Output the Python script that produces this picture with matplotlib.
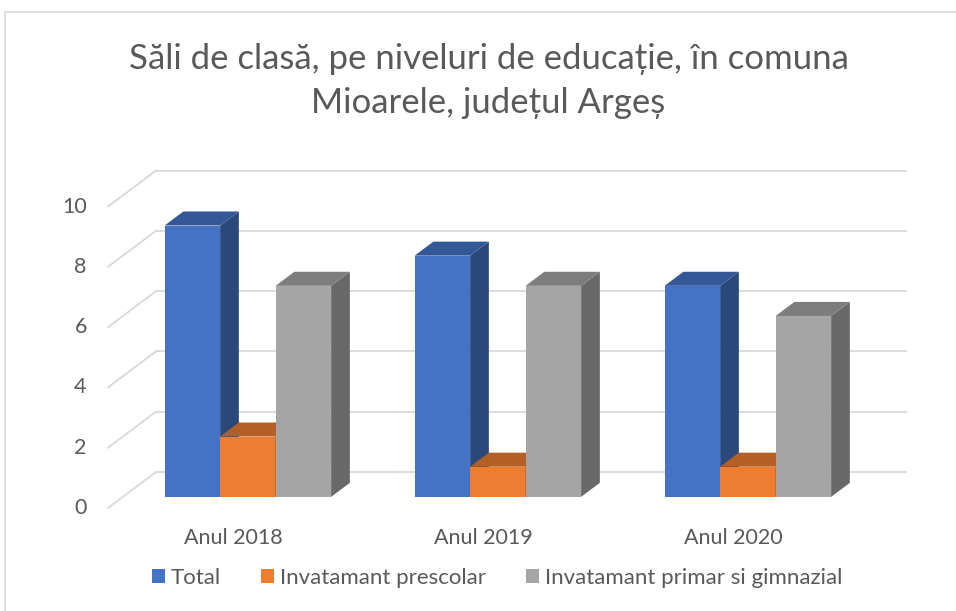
import matplotlib.pyplot as plt
from matplotlib.patches import Polygon, Patch, Rectangle
from matplotlib.colors import to_rgb

plt.rcParams['font.family'] = ['Lato', 'DejaVu Sans']

# date
categorii = ['Anul 2018', 'Anul 2019', 'Anul 2020']
serii = ['Total', 'Invatamant prescolar', 'Invatamant primar si gimnazial']
total = [9, 8, 7]
prescolar = [2, 1, 1]
primar_gimnazial = [7, 7, 6]
valori = [total, prescolar, primar_gimnazial]
culori = ['#4472C4', '#ED7D31', '#A5A5A5']
ticks_y = [0, 2, 4, 6, 8, 10]

text_col = '#595959'
grid_col = '#D9D9D9'

# geometrie 3D oblica (in unitati de date)
DX, DY = 0.192, 1.194      # adancimea peretelui
d0, d1 = 0.31, 0.70        # adancimea barelor
w = 0.222                  # latimea unei bare


def shade(c, f):
    r, g, b = to_rgb(c)
    return (r * f, g * f, b * f)


fig = plt.figure(figsize=(9.56, 6.11), dpi=100)
ax = fig.add_axes([0, 0, 1, 1])
ax.set_xlim(-0.932, 2.892)
ax.set_ylim(-3.416, 16.85)
ax.axis('off')

# peretele din spate + liniile diagonale
x_left, x_right = -0.5, len(categorii) - 0.5
for v in ticks_y:
    ax.plot([x_left + DX, x_right + DX], [v + DY, v + DY], color=grid_col, lw=1.3, zorder=1)
    ax.plot([x_left, x_left + DX], [v, v + DY], color=grid_col, lw=1.3, zorder=1)
    ax.text(x_left - 0.085, v, str(v), ha='right', va='center', fontsize=15.5, color=text_col)

# bare 3D
for i, cat in enumerate(categorii):
    for j, serie in enumerate(valori):
        h = serie[i]
        x0 = i + d0 * DX + (j - 1.5) * w
        x1 = x0 + w
        yb = d0 * DY
        yt = yb + h
        ox, oy = (d1 - d0) * DX, (d1 - d0) * DY
        front = [(x0, yb), (x1, yb), (x1, yt), (x0, yt)]
        side = [(x1, yb), (x1 + ox, yb + oy), (x1 + ox, yt + oy), (x1, yt)]
        top = [(x0, yt), (x1, yt), (x1 + ox, yt + oy), (x0 + ox, yt + oy)]
        z = 3 + i * 3 + j
        ax.add_patch(Polygon(front, closed=True, fc=culori[j], ec='none', zorder=z))
        ax.add_patch(Polygon(side, closed=True, fc=shade(culori[j], 0.63), ec='none', zorder=z))
        ax.add_patch(Polygon(top, closed=True, fc=shade(culori[j], 0.76), ec='none', zorder=z))
    ax.text(i, -1.0, cat, ha='center', va='center', fontsize=15.5, color=text_col)

# titlu
fig.text(0.511, 0.868, 'Săli de clasă, pe niveluri de educație, în comuna\nMioarele, județul Argeș',
         ha='center', va='center', fontsize=25, color=text_col, linespacing=1.45)

# legenda
handles = [Patch(facecolor=c, edgecolor='none') for c in culori]
fig.legend(handles, serii, loc='center', bbox_to_anchor=(0.520, 0.054), ncol=3,
           frameon=False, fontsize=16, handlelength=0.6, handleheight=0.6,
           handletextpad=0.25, columnspacing=1.8, labelcolor=text_col)

# chenar
fig.patches.append(Rectangle((5 / 956, -0.01), 1.0, 1 - 12 / 611 + 0.01, transform=fig.transFigure,
                             fill=False, ec=grid_col, lw=1.2))

plt.savefig('out.png', dpi=100)
